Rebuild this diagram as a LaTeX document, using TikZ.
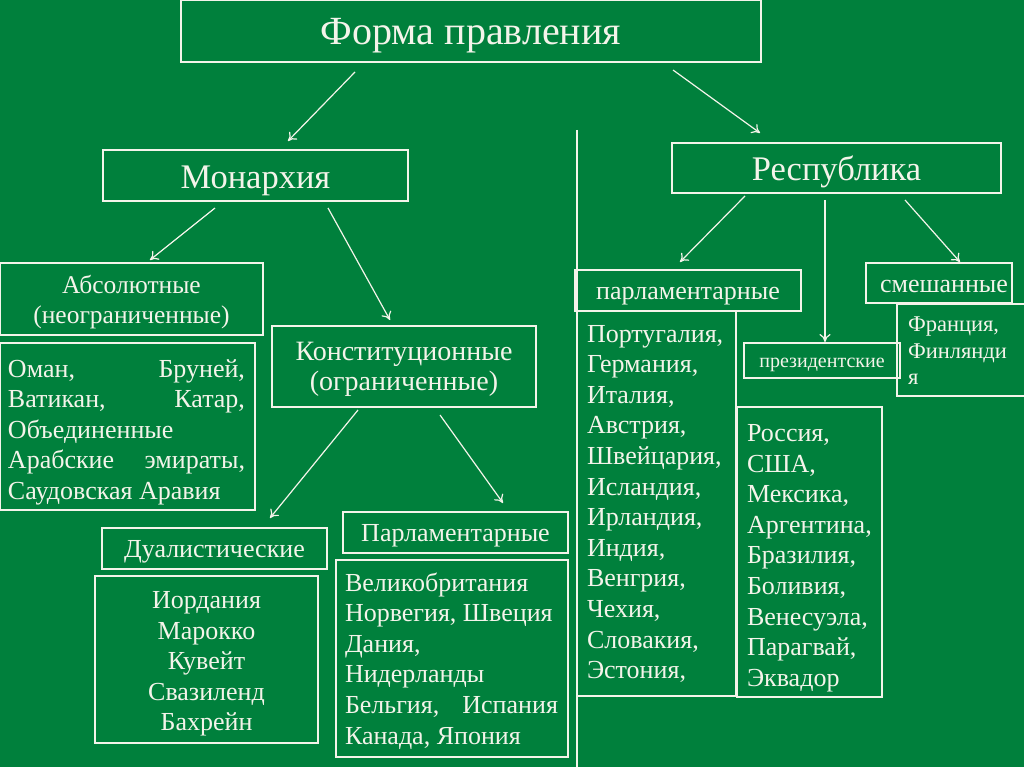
\documentclass[tikz,border=0pt]{standalone}
\usepackage{fontspec}
\setmainfont{Liberation Serif}
\usetikzlibrary{arrows.meta,calc}
\definecolor{bg}{RGB}{0,128,60}
\definecolor{fg}{RGB}{244,244,234}
\begin{document}
\begin{tikzpicture}[x=1pt,y=-1pt,
  box/.style={draw=fg, line width=1.1pt, text=fg, inner sep=0pt, outer sep=0pt, anchor=north west, align=center, text depth=0pt},
  frame/.style={draw=fg, line width=1.1pt, inner sep=0pt, outer sep=0pt, anchor=north west},
  tx/.style={text=fg, inner sep=0pt, outer sep=0pt},
  big/.style={font=\fontsize{40}{44}\selectfont, text height=28pt},
  mid/.style={font=\fontsize{34.5}{38}\selectfont, text height=26pt},
  sml/.style={font=\fontsize{26}{30}\selectfont, text height=18pt},
  tiny/.style={font=\fontsize{20}{24}\selectfont, text height=13pt},
  txt/.style={font=\fontsize{26}{30.6}\selectfont},
  arr/.style={draw=fg, line width=1.2pt, -{To[length=8pt,width=11pt]}},
  plain/.style={draw=fg, line width=1.1pt}]
\fill[bg] (0,0) rectangle (1024,767);
\useasboundingbox (0,0) rectangle (1024,767);

% top level
\node[box, big, minimum width=580, minimum height=62] (title) at (181,0) {Форма правления};
\node[box, mid, minimum width=305, minimum height=51] (mon) at (103,150) {Монархия};
\node[box, mid, minimum width=329, minimum height=50] (rep) at (672,143) {Республика};

% monarchy branch
\node[frame, minimum width=263, minimum height=72] (abs) at (0,263) {};
\node[tx, anchor=base, font=\fontsize{25.5}{30}\selectfont] (absT) at (131.5,293)
  {\parbox[t]{250pt}{\centering Абсолютные\\(неограниченные)}};
\node[frame, minimum width=255, minimum height=167] (abslist) at (0,343) {};
\node[tx, txt, anchor=base west] (abslistT) at (8,377)
  {\parbox[t]{237pt}{\raggedright Оман,\hfill Бруней,\\Ватикан,\hfill Катар,\\Объединенные\\Арабские\hfill эмираты,\\Саудовская Аравия}};
\node[frame, minimum width=264, minimum height=81] (con) at (272,326) {};
\node[tx, anchor=base, font=\fontsize{28}{30}\selectfont] (conT) at (404,360)
  {\parbox[t]{260pt}{\centering Конституционные\\(ограниченные)}};
\node[box, sml, minimum width=225, minimum height=41] (dual) at (102,528) {Дуалистические};
\node[frame, minimum width=223, minimum height=167] (duallist) at (95,576) {};
\node[tx, txt, anchor=base] (duallistT) at (206.5,608.5)
  {\parbox[t]{215pt}{\centering Иордания\\Марокко\\Кувейт\\Свазиленд\\Бахрейн}};
\node[box, sml, minimum width=225, minimum height=41] (parm) at (343,512) {Парламентарные};
\node[frame, minimum width=232, minimum height=197] (parmlist) at (336,560) {};
\node[tx, txt, anchor=base west] (parmlistT) at (345,591)
  {\parbox[t]{213pt}{\raggedright Великобритания\\Норвегия, Швеция\\Дания,\\Нидерланды\\Бельгия,\hfill Испания\\Канада, Япония}};

% republic branch
\node[box, sml, minimum width=226, minimum height=41] (parr) at (575,270) {парламентарные};
\node[frame, minimum width=159, minimum height=385] (parrlist) at (577,311) {};
\node[tx, txt, anchor=base west] (parrlistT) at (587,342)
  {\parbox[t]{145pt}{\raggedright Португалия,\\Германия,\\Италия,\\Австрия,\\Швейцария,\\Исландия,\\Ирландия,\\Индия,\\Венгрия,\\Чехия,\\Словакия,\\Эстония,}};
\node[box, tiny, minimum width=156, minimum height=35] (pres) at (744,343) {президентские};
\node[frame, minimum width=145, minimum height=290] (preslist) at (737,407) {};
\node[tx, txt, anchor=base west] (preslistT) at (747,441.5)
  {\parbox[t]{130pt}{\raggedright Россия,\\США,\\Мексика,\\Аргентина,\\Бразилия,\\Боливия,\\Венесуэла,\\Парагвай,\\Эквадор}};
\node[box, sml, minimum width=146, minimum height=40] (mix) at (866,263) {\hspace*{10pt}смешанные};
\node[frame, minimum width=130, minimum height=92] (mixlist) at (897,304) {};
\node[tx, anchor=base west, font=\fontsize{22.5}{26.5}\selectfont] (mixlistT) at (908,331.5)
  {\parbox[t]{110pt}{\raggedright Франция,\\Финлянди\\я}};

% divider
\coordinate (vtop) at (577,130);
\coordinate (vbot) at (577,767);
\draw[plain] (vtop) -- (vbot);

% arrows
\draw[arr] ([xshift=-116pt,yshift=-10pt]title.south) -- ([xshift=32.5pt,yshift=9pt]mon.north);
\draw[arr] ([xshift=202pt,yshift=-8pt]title.south) -- ([xshift=-76.5pt,yshift=10pt]rep.north);
\draw[arr] ([xshift=-40.5pt,yshift=-7pt]mon.south) -- ([xshift=18.5pt,yshift=3pt]abs.north);
\draw[arr] ([xshift=72.5pt,yshift=-7pt]mon.south) -- ([xshift=-14pt,yshift=6pt]con.north);
\draw[arr] ([xshift=-46pt,yshift=-3pt]con.south) -- ([xshift=55.5pt,yshift=10pt]dual.north);
\draw[arr] ([xshift=36pt,yshift=-8pt]con.south) -- ([xshift=47.5pt,yshift=9pt]parm.north);
\draw[arr] ([xshift=-91.5pt,yshift=-3pt]rep.south) -- ([xshift=-8pt,yshift=8pt]parr.north);
\draw[arr] ([xshift=-11.5pt,yshift=-7pt]rep.south) -- ([xshift=3pt,yshift=1pt]pres.north);
\draw[arr] ([xshift=68.5pt,yshift=-7pt]rep.south) -- ([xshift=21pt,yshift=1pt]mix.north);
\end{tikzpicture}
\end{document}
